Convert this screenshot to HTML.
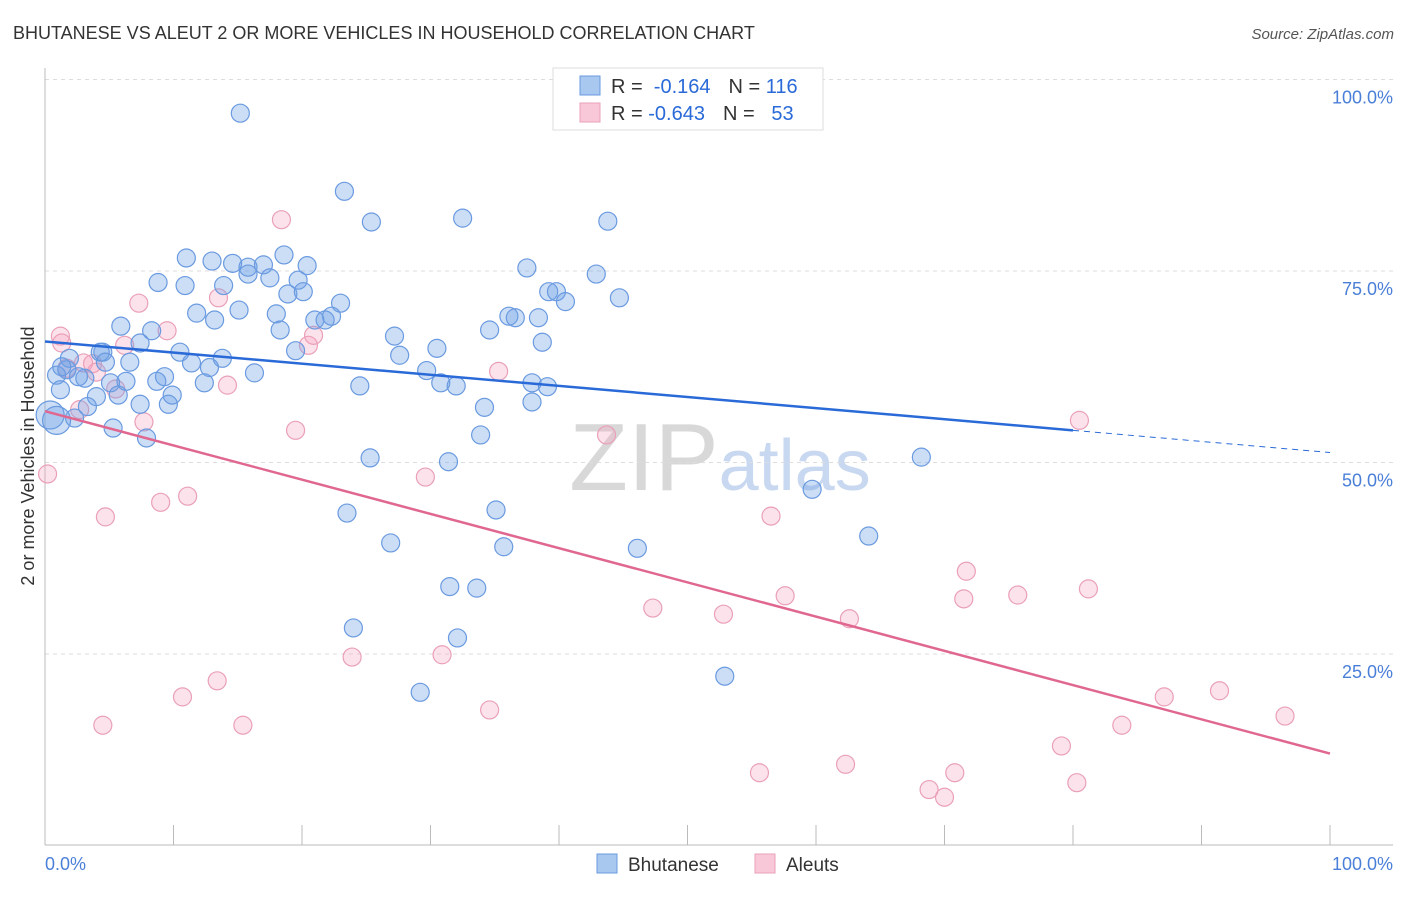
<!DOCTYPE html>
<html><head><meta charset="utf-8"><style>
body{margin:0;background:#fff;font-family:"Liberation Sans",sans-serif}
svg text{font-family:"Liberation Sans",sans-serif}
</style></head><body>
<svg id="chart" width="1406" height="892" viewBox="0 0 1406 892">
<text x="13" y="39" font-size="18" fill="#333">BHUTANESE VS ALEUT 2 OR MORE VEHICLES IN HOUSEHOLD CORRELATION CHART</text>
<text x="1394" y="39" font-size="15" fill="#555" font-style="italic" text-anchor="end">Source: ZipAtlas.com</text>
<text x="720" y="490" font-size="96" text-anchor="middle" fill="#ddd" font-family="Liberation Serif"><tspan fill="#d8d8d8">ZIP</tspan><tspan fill="#c8d8f0" font-family="Liberation Sans" font-size="72">atlas</tspan></text>
<g id="grid"></g><g id="axes"></g><g id="pts"></g><g id="trend"></g>
<text transform="translate(34,456) rotate(-90)" font-size="18" fill="#333" text-anchor="middle">2 or more Vehicles in Household</text>
<g>
<rect x="553" y="68" width="270" height="62" fill="#fff" stroke="#ddd"/>
<rect x="580" y="76" width="20" height="19" fill="#a8c8f0" stroke="#6a9ae0"/>
<rect x="580" y="103" width="20" height="19" fill="#f8c8d8" stroke="#eaa0b8"/>
<text x="611" y="93" font-size="20" fill="#333">R = <tspan fill="#2a6ad8">&#160;-0.164</tspan><tspan dx="18" fill="#333">N = </tspan><tspan fill="#2a6ad8">116</tspan></text>
<text x="611" y="120" font-size="20" fill="#333">R = <tspan fill="#2a6ad8">-0.643</tspan><tspan dx="18" fill="#333">N = </tspan><tspan fill="#2a6ad8">&#160;&#160;53</tspan></text>
</g>
<g>
<rect x="597" y="854" width="20" height="19" fill="#a8c8f0" stroke="#6a9ae0"/>
<text x="628" y="871" font-size="19" fill="#333">Bhutanese</text>
<rect x="755" y="854" width="20" height="19" fill="#f8c8d8" stroke="#eaa0b8"/>
<text x="786" y="871" font-size="19" fill="#333">Aleuts</text>
</g>
</svg>
<script>
const yTicks=[25,50,75,100];
const yTickLabels=["25.0%","50.0%","75.0%","100.0%"];
const xTicks=[0,10,20,30,40,50,60,70,80,90,100];
const blueX=[15.2,23.3,25.4,32.5,43.8,11.0,13.0,14.6,15.8,17.0,18.6,20.4,15.8,17.5,19.7,8.8,10.9,13.9,18.9,20.1,23.0,11.8,15.1,13.2,18.0,18.3,21.0,21.8,22.3,5.9,8.3,7.4,10.5,4.5,1.9,6.6,11.4,13.8,12.8,16.3,9.3,8.7,12.4,6.3,5.1,3.1,1.7,0.9,1.2,4.0,3.3,5.7,7.4,9.6,9.9,5.3,7.9,2.3,0.4,19.5,27.2,27.6,30.5,29.7,30.8,32.0,24.5,34.2,33.9,25.3,31.4,37.5,39.2,39.8,40.5,36.1,36.6,38.4,38.7,34.6,37.9,37.9,39.1,42.9,44.7,23.5,35.1,35.7,26.9,46.1,31.5,33.6,24.0,32.1,29.2,52.9,59.7,64.1,68.2,43.0,0.9,1.3,2.6,4.3,4.7];
const blueY=[95.6,85.4,81.4,81.9,81.5,76.7,76.3,76.0,75.5,75.8,77.1,75.7,74.6,74.1,73.8,73.5,73.1,73.1,72.0,72.3,70.8,69.5,69.9,68.6,69.4,67.3,68.6,68.6,69.1,67.8,67.2,65.6,64.4,64.4,63.6,63.1,63.0,63.6,62.4,61.7,61.2,60.6,60.4,60.6,60.4,61.0,62.1,61.4,59.5,58.6,57.3,58.8,57.6,57.6,58.8,54.5,53.2,55.8,56.2,64.6,66.5,64.0,64.9,62.0,60.4,60.0,60.0,57.2,53.6,50.6,50.1,75.4,72.3,72.3,71.0,69.1,68.9,68.9,65.7,67.3,60.4,57.9,59.9,74.6,71.5,43.4,43.8,39.0,39.5,38.8,33.8,33.6,28.4,27.1,20.0,22.1,46.5,40.4,50.7,99.9,55.5,62.5,61.2,64.4,63.1];
const pinkX=[1.2,1.3,3.0,3.7,5.5,6.2,7.3,9.5,7.7,13.5,14.2,18.4,20.5,20.9,19.5,29.6,35.3,43.7,80.5,0.2,4.7,9.0,11.1,10.7,13.4,4.5,15.4,23.9,30.9,34.6,47.3,52.8,56.5,57.6,62.6,71.7,71.5,75.7,81.2,87.1,91.4,83.8,96.5,79.1,55.6,62.3,70.8,68.8,70.0,80.3,2.7,1.7,4.0];
const pinkY=[66.5,65.6,63.0,62.9,59.6,65.3,70.8,67.2,55.3,71.5,60.1,81.7,65.3,66.6,54.2,48.1,61.9,53.6,55.5,48.5,42.9,44.8,45.6,19.4,21.5,15.7,15.7,24.6,24.9,17.7,31.0,30.2,43.0,32.6,29.6,35.8,32.2,32.7,33.5,19.4,20.2,15.7,16.9,13.0,9.5,10.6,9.5,7.3,6.3,8.2,56.9,62.3,61.8];
const blueTrend=[65.8,51.3]; // y at x=0 and x=100
const blueSolidEnd=80;
const pinkTrend=[56.7,12.0];
const X0=45,X1=1330,Y0=845.5,Y100=79.5;
const sx=v=>X0+(X1-X0)*v/100, sy=v=>Y0-(Y0-Y100)*v/100;
const NS="http://www.w3.org/2000/svg";
function mk(p,t,a){const e=document.createElementNS(NS,t);for(const k in a)e.setAttribute(k,a[k]);p.appendChild(e);return e;}
const grid=document.getElementById('grid'),axes=document.getElementById('axes'),pts=document.getElementById('pts'),tr=document.getElementById('trend');
yTicks.forEach((t,i)=>{
 const l=mk(grid,'line',{x1:X0,x2:1393,y1:sy(t),y2:sy(t),stroke:'#ddd','stroke-dasharray':'4,4'});
 
 
 const tx=mk(grid,'text',{x:1393,y:sy(t)+24,'font-size':18,fill:'#4a7fd8','text-anchor':'end'});
 tx.textContent=yTickLabels[i];
 
 
});
const ya=mk(axes,'line',{x1:X0,x2:X0,y1:68,y2:845,stroke:'#bbb'});


const xa=mk(axes,'line',{x1:X0,x2:1393,y1:845,y2:845,stroke:'#bbb'});


xTicks.forEach(t=>{const l=mk(axes,'line',{x1:sx(t),x2:sx(t),y1:825,y2:845,stroke:'#bbb'});
 
 });
[['0.0%',X0,'start'],['100.0%',1393,'end']].forEach(([s,x,a])=>{const t=mk(axes,'text',{x:x,y:870,'font-size':18,fill:'#4a7fd8','text-anchor':a});t.textContent=s;
 
 });
pinkX.forEach((v,i)=>{const c=mk(pts,'circle',{cx:sx(v),cy:sy(pinkY[i]),r:9,fill:'rgba(245,160,190,0.3)',stroke:'#eaa0b8','stroke-width':1.2});
 
 });
blueX.forEach((v,i)=>{const big=v<1.5&&(i===100||i===58);const c=mk(pts,'circle',{cx:sx(v),cy:sy(blueY[i]),r:big?14:9,fill:'rgba(110,160,230,0.35)',stroke:'#6a9ae0','stroke-width':1.2});
 
 });
const by=x=>blueTrend[0]+(blueTrend[1]-blueTrend[0])*x/100, py=x=>pinkTrend[0]+(pinkTrend[1]-pinkTrend[0])*x/100;
let l=mk(tr,'line',{x1:sx(0),y1:sy(by(0)),x2:sx(blueSolidEnd),y2:sy(by(blueSolidEnd)),stroke:'#2a6ad8','stroke-width':2.5});


l=mk(tr,'line',{x1:sx(blueSolidEnd),y1:sy(by(blueSolidEnd)),x2:sx(100),y2:sy(by(100)),stroke:'#2a6ad8','stroke-width':1,'stroke-dasharray':'6,5'});


l=mk(tr,'line',{x1:sx(0),y1:sy(py(0)),x2:sx(100),y2:sy(py(100)),stroke:'#e06890','stroke-width':2.5});


</script>
</body></html>
